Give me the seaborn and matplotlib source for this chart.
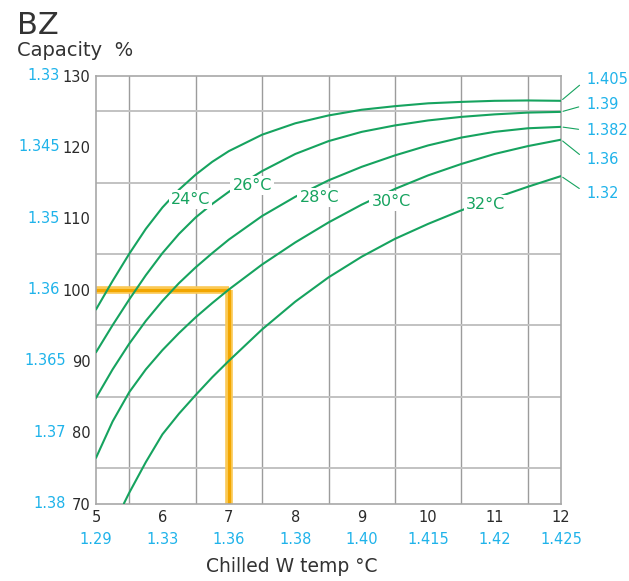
import matplotlib
matplotlib.use("Agg")
import matplotlib.pyplot as plt
import matplotlib.transforms as mtransforms
import numpy as np
import pandas as pd
import seaborn as sns

# ---------------- data ----------------
x_grid = [5.0, 5.25, 5.5, 5.75, 6.0, 6.25, 6.5, 6.75, 7.0, 7.5, 8.0, 8.5, 9.0, 9.5, 10.0, 10.5, 11.0, 11.5, 12.0]
cap_24 = [97.2, 101.2, 105.0, 108.5, 111.5, 114.0, 116.1, 117.9, 119.4, 121.7, 123.3, 124.4, 125.2, 125.7, 126.1, 126.3, 126.45, 126.5, 126.45]
cap_26 = [91.2, 95.0, 98.6, 102.0, 105.1, 107.8, 110.1, 112.0, 113.7, 116.6, 119.0, 120.8, 122.1, 123.0, 123.7, 124.2, 124.55, 124.8, 124.9]
cap_28 = [84.8, 88.8, 92.4, 95.6, 98.4, 100.9, 103.1, 105.1, 107.0, 110.3, 113.0, 115.3, 117.2, 118.8, 120.2, 121.3, 122.1, 122.6, 122.8]
cap_30 = [76.4, 81.5, 85.6, 88.8, 91.5, 93.9, 96.1, 98.1, 100.0, 103.5, 106.6, 109.4, 111.9, 114.1, 116.0, 117.6, 119.0, 120.1, 121.0]
x_32 = [5.42, 5.5, 5.75, 6.0, 6.25, 6.5, 6.75, 7.0, 7.5, 8.0, 8.5, 9.0, 9.5, 10.0, 10.5, 11.0, 11.5, 12.0]
cap_32 = [70.0, 71.5, 75.8, 79.7, 82.6, 85.2, 87.7, 90.0, 94.4, 98.3, 101.7, 104.6, 107.1, 109.2, 111.1, 112.8, 114.4, 115.9]

curve_names = ["24°C", "26°C", "28°C", "30°C", "32°C"]
end_values = ["1.405", "1.39", "1.382", "1.36", "1.32"]

x_ticks = [5, 6, 7, 8, 9, 10, 11, 12]
x_ticks_blue = ["1.29", "1.33", "1.36", "1.38", "1.40", "1.415", "1.42", "1.425"]
y_ticks = [70, 80, 90, 100, 110, 120, 130]
y_ticks_blue = ["1.38", "1.37", "1.365", "1.36", "1.35", "1.345", "1.33"]

guide_x = 7
guide_y = 100

# ---------------- build table ----------------
xs_all = [x_grid, x_grid, x_grid, x_grid, x_32]
ys_all = [cap_24, cap_26, cap_28, cap_30, cap_32]
rows = []
for name, xs, ys in zip(curve_names, xs_all, ys_all):
    for xv, yv in zip(xs, ys):
        rows.append({"temp": xv, "cap": yv, "curve": name})
df = pd.DataFrame(rows)

# ---------------- style ----------------
sns.set_theme(style="white")
plt.rcParams["font.family"] = ["DejaVu Sans"]

GREEN = "#16a35f"
BLUE = "#1fb3ea"
ORANGE = "#f2a600"
ORANGE_L = "#fbc955"
DARK = "#2a2a2a"

fig = plt.figure(figsize=(6.29, 5.81), dpi=100)
ax = fig.add_axes([96 / 629, 1 - 503.5 / 581, 465 / 629, 428 / 581])

ax.set_xlim(5, 12)
ax.set_ylim(70, 130)

# grid
ax.set_xticks(np.arange(5, 12.01, 0.5), minor=True)
ax.set_yticks(np.arange(70, 130.01, 5), minor=True)
ax.grid(which="minor", axis="x", color="#9c9c9c", lw=1.0, zorder=0)
ax.grid(which="minor", axis="y", color="#c2c2c2", lw=1.4, zorder=0)
ax.set_axisbelow(True)
for s in ax.spines.values():
    s.set_color("#a8a8a8")
    s.set_linewidth(1.2)

# orange guide
ax.plot([5, guide_x], [guide_y, guide_y], color=ORANGE_L, lw=5.5, solid_capstyle="butt", zorder=2)
ax.plot([guide_x, guide_x], [70, guide_y], color=ORANGE_L, lw=5.5, solid_capstyle="butt", zorder=2)
ax.plot([5, guide_x, guide_x], [guide_y, guide_y, 70], color=ORANGE, lw=2.2, zorder=2.1)

# curves
sns.lineplot(data=df, x="temp", y="cap", hue="curve", palette=[GREEN] * 5,
             legend=False, lw=1.5, ax=ax, zorder=3, sort=False,
             solid_joinstyle="round")

# curve labels
label_pos = [(6.42, 112.6), (7.35, 114.6), (8.36, 112.9), (9.44, 112.4), (10.87, 111.9)]
for name, (lx, ly) in zip(curve_names, label_pos):
    ax.text(lx, ly, name, color=GREEN, fontsize=11.5, ha="center", va="center", zorder=5,
            bbox=dict(fc="white", ec="none", pad=1.5))

# right-side leader labels
end_caps = [ys[-1] for ys in ys_all]
dy_px = [-21, -7, 3.5, 20, 17]
for val, yc, dy in zip(end_values, end_caps, dy_px):
    ax.annotate(val, xy=(12, yc), xycoords="data",
                xytext=(25 * 0.72, -dy * 0.72), textcoords="offset points",
                color=BLUE, fontsize=10.5, ha="left", va="center", annotation_clip=False,
                arrowprops=dict(arrowstyle="-", color=GREEN, lw=0.8, shrinkA=3, shrinkB=1.5,
                                relpos=(0, 0.5)))

# ticks
ax.set_xticks(x_ticks)
ax.set_xticklabels([str(t) for t in x_ticks], fontsize=10.5, color=DARK)
ax.set_yticks(y_ticks)
ax.set_yticklabels([str(t) for t in y_ticks], fontsize=10.5, color=DARK)
ax.tick_params(axis="both", which="both", length=0)
ax.tick_params(axis="x", pad=5)
ax.tick_params(axis="y", pad=4)
ax.set_xlabel("")
ax.set_ylabel("")

# blue secondary tick labels
for t, lab in zip(x_ticks, x_ticks_blue):
    tr = mtransforms.offset_copy(ax.get_xaxis_transform(), fig=fig, x=0, y=-36, units="dots")
    ax.text(t, 0, lab, transform=tr, color=BLUE, fontsize=10.5, ha="center", va="center")
for t, lab in zip(y_ticks, y_ticks_blue):
    off = -36 if t >= 100 else -30
    tr = mtransforms.offset_copy(ax.get_yaxis_transform(), fig=fig, x=off, y=0, units="dots")
    ax.text(0, t, lab, transform=tr, color=BLUE, fontsize=10.5, ha="right", va="center")

# titles
fig.text(17 / 629, 1 - 25 / 581, "BZ", fontsize=22, color="#333333", ha="left", va="center")
fig.text(17 / 629, 1 - 51 / 581, "Capacity  %", fontsize=14, color="#333333", ha="left", va="center")
fig.text(292 / 629, 1 - 566 / 581, "Chilled W temp °C", fontsize=13.5, color="#333333",
         ha="center", va="center")

fig.savefig("out.png", dpi=100)
